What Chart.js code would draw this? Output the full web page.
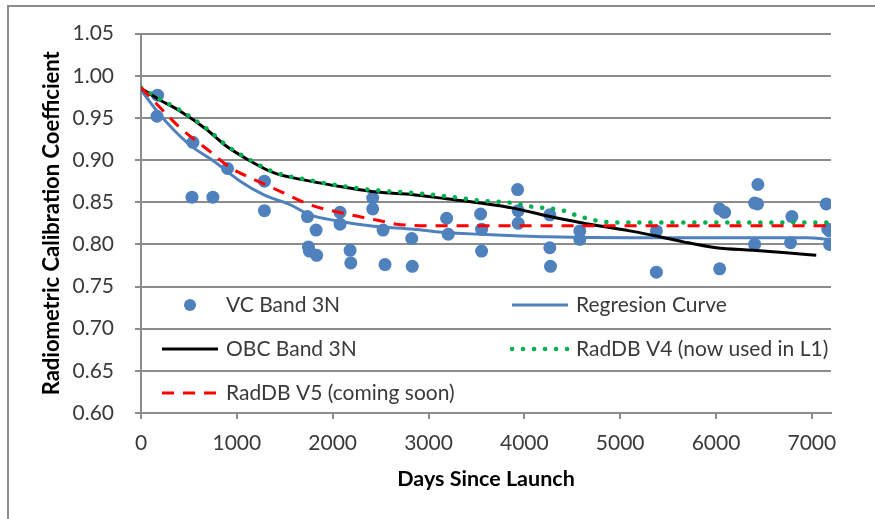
<!DOCTYPE html>
<html lang="en">
<head>
  <meta charset="UTF-8" />
  <title>Radiometric Calibration Coefficient - Band 3N</title>
  <script src="https://cdn.jsdelivr.net/npm/chart.js"></script>
  <style>
    body {
      margin: 0;
      background: #ffffff;
    }

    .wrap {
      position: relative;
      width: 875px;
      height: 519px;
    }

    .frame {
      position: absolute;
      left: 7px;
      top: 5px;
      width: 875px;
      height: 519px;
      border-left: 2px solid #8c8c8c;
      border-top: 2px solid #8c8c8c;
      pointer-events: none;
    }
  </style>
</head>
<body>
  <div class="wrap">
    <canvas id="calChart" width="875" height="519"></canvas>
    <div class="frame"></div>
  </div>

  <script>
    // VC Band 3N (vicarious calibration points)
    const vcDays = [173, 167, 542, 532, 750, 903, 1288, 1288, 1737, 1747, 1757, 1833, 1827,
      2077, 2077, 2182, 2189, 2418, 2418, 2526, 2546, 2825, 2831, 3189, 3206,
      3544, 3554, 3554, 3930, 3936, 3936, 4266, 4266, 4273, 4579, 4579,
      5378, 5378, 6038, 6090, 6038, 6437, 6403, 6434, 6403, 6792, 6778,
      7150, 7167, 7185, 7185];
    const vcValues = [0.977, 0.952, 0.921, 0.856, 0.856, 0.890, 0.875, 0.840, 0.833, 0.797, 0.792, 0.787, 0.817,
      0.838, 0.824, 0.793, 0.778, 0.855, 0.842, 0.817, 0.776, 0.807, 0.774, 0.831, 0.812,
      0.836, 0.818, 0.792, 0.865, 0.840, 0.825, 0.835, 0.796, 0.774, 0.816, 0.806,
      0.816, 0.767, 0.842, 0.838, 0.771, 0.871, 0.849, 0.848, 0.800, 0.833, 0.802,
      0.848, 0.818, 0.816, 0.800];

    // Regresion Curve
    const regDays = [0, 167, 340, 532, 757, 1035, 1278, 1556, 1765, 2043, 2320, 2494, 2841, 3189, 3537, 3954, 4232, 5100, 6942, 7185];
    const regValues = [0.983, 0.958, 0.936, 0.916, 0.899, 0.875, 0.859, 0.847, 0.835, 0.828, 0.823, 0.821, 0.818, 0.814, 0.812, 0.810, 0.809, 0.808, 0.808, 0.806];

    // OBC Band 3N
    const obcDays = [0, 201, 410, 688, 896, 1139, 1382, 1765, 2112, 2460, 2841, 3189, 3537, 3884, 4232, 4580, 5100, 5378, 5660, 6004, 6385, 6733, 7046];
    const obcValues = [0.985, 0.971, 0.958, 0.936, 0.916, 0.899, 0.885, 0.875, 0.868, 0.862, 0.859, 0.854, 0.849, 0.843, 0.834, 0.826, 0.816, 0.810, 0.803, 0.796, 0.793, 0.790, 0.787];

    // RadDB V4 (now used in L1)
    const v4Days = [0, 201, 410, 688, 896, 1139, 1382, 1765, 2112, 2460, 2841, 3189, 3537, 3884, 4060, 4410, 4580, 4930, 7180];
    const v4Values = [0.986, 0.972, 0.959, 0.937, 0.917, 0.900, 0.886, 0.876, 0.869, 0.864, 0.861, 0.857, 0.852, 0.849, 0.845, 0.840, 0.833, 0.826, 0.826];

    // RadDB V5 (coming soon)
    const v5Days = [0, 236, 410, 722, 931, 1139, 1452, 1765, 2147, 2494, 2668, 3015, 7180];
    const v5Values = [0.986, 0.958, 0.938, 0.910, 0.891, 0.879, 0.863, 0.847, 0.836, 0.828, 0.824, 0.822, 0.822];

    // axis ticks
    const xTicks = [0, 1000, 2000, 3000, 4000, 5000, 6000, 7000];
    const yTicks = [0.60, 0.65, 0.70, 0.75, 0.80, 0.85, 0.90, 0.95, 1.00, 1.05];
    const xMin = 0, xMax = 7200;
    const yMin = 0.60, yMax = 1.05;

    const BLUE = '#4f81bd';
    const GRID = '#8c8c8c';
    const TEXT = '#3a3a3a';
    const FONT = 'Lato, "Open Sans", sans-serif';

    function toPoints(xs, ys) {
      return xs.map((x, i) => ({ x: x, y: ys[i] }));
    }

    // legend drawn inside the plot, two columns like the original
    const legendItems = [
      { text: 'VC Band 3N', kind: 'dot', color: BLUE, col: 0, row: 0 },
      { text: 'Regresion Curve', kind: 'line', color: BLUE, col: 1, row: 0 },
      { text: 'OBC Band 3N', kind: 'line', color: '#000000', col: 0, row: 1 },
      { text: 'RadDB V4 (now used in L1)', kind: 'dots', color: '#00b050', col: 1, row: 1 },
      { text: 'RadDB V5 (coming soon)', kind: 'dash', color: '#ff0000', col: 0, row: 2 }
    ];

    const insideLegend = {
      id: 'insideLegend',
      afterDraw(chart) {
        const ctx = chart.ctx;
        const colX = [160, 510];
        const rowY = [305, 349, 393];
        ctx.save();
        legendItems.forEach(item => {
          const x0 = colX[item.col];
          const y = rowY[item.row];
          ctx.strokeStyle = item.color;
          ctx.fillStyle = item.color;
          ctx.lineWidth = 3;
          ctx.setLineDash([]);
          ctx.lineCap = 'butt';
          if (item.kind === 'dot') {
            ctx.beginPath();
            ctx.arc(x0 + 30, y, 6, 0, Math.PI * 2);
            ctx.fill();
          } else {
            if (item.kind === 'dash') ctx.setLineDash([12, 9]);
            if (item.kind === 'dots') {
              ctx.lineWidth = 4.5;
              ctx.lineCap = 'round';
              ctx.setLineDash([0.1, 10.9]);
            }
            ctx.beginPath();
            ctx.moveTo(x0 + 2, y);
            ctx.lineTo(x0 + 58, y);
            ctx.stroke();
          }
          ctx.setLineDash([]);
          ctx.fillStyle = TEXT;
          ctx.font = '21px ' + FONT;
          ctx.textBaseline = 'middle';
          ctx.textAlign = 'left';
          ctx.fillText(item.text, x0 + 66, y);
        });
        ctx.restore();
      }
    };

    const ctx = document.getElementById('calChart').getContext('2d');
    new Chart(ctx, {
      type: 'scatter',
      data: {
        datasets: [
          {
            label: 'RadDB V5 (coming soon)',
            data: toPoints(v5Days, v5Values),
            showLine: true,
            borderColor: '#ff0000',
            borderWidth: 3,
            borderDash: [12, 9],
            pointRadius: 0,
            cubicInterpolationMode: 'monotone',
            order: 1
          },
          {
            label: 'RadDB V4 (now used in L1)',
            data: toPoints(v4Days, v4Values),
            showLine: true,
            borderColor: '#00b050',
            borderWidth: 4.5,
            borderDash: [0.1, 10.9],
            borderCapStyle: 'round',
            pointRadius: 0,
            cubicInterpolationMode: 'monotone',
            order: 2
          },
          {
            label: 'OBC Band 3N',
            data: toPoints(obcDays, obcValues),
            showLine: true,
            borderColor: '#000000',
            borderWidth: 3,
            pointRadius: 0,
            cubicInterpolationMode: 'monotone',
            order: 3
          },
          {
            label: 'Regresion Curve',
            data: toPoints(regDays, regValues),
            showLine: true,
            borderColor: BLUE,
            borderWidth: 3,
            pointRadius: 0,
            cubicInterpolationMode: 'monotone',
            order: 4
          },
          {
            label: 'VC Band 3N',
            data: toPoints(vcDays, vcValues),
            backgroundColor: BLUE,
            borderColor: BLUE,
            pointRadius: 6.5,
            pointBorderWidth: 0,
            order: 5
          }
        ]
      },
      options: {
        responsive: false,
        animation: false,
        layout: {
          padding: { top: 32, right: 44, bottom: 0, left: 0 }
        },
        plugins: {
          legend: { display: false },
          tooltip: { enabled: false }
        },
        scales: {
          x: {
            type: 'linear',
            min: xMin,
            max: xMax,
            afterBuildTicks: scale => { scale.ticks = xTicks.map(v => ({ value: v })); },
            afterFit: scale => { scale.height = 106; },
            grid: {
              drawOnChartArea: false,
              drawTicks: true,
              tickLength: 6,
              color: GRID,
              lineWidth: 2
            },
            border: { color: GRID, width: 2 },
            ticks: {
              autoSkip: false,
              padding: 12,
              color: TEXT,
              font: { family: FONT, size: 21 },
              maxRotation: 0,
              callback: v => String(v)
            },
            title: {
              display: true,
              text: 'Days Since Launch',
              color: '#000000',
              font: { family: FONT, size: 21.5, weight: 'bold' },
              padding: { top: 0, bottom: 27 }
            }
          },
          y: {
            min: yMin,
            max: yMax,
            afterBuildTicks: scale => { scale.ticks = yTicks.map(v => ({ value: v })); },
            afterFit: scale => { scale.width = 141; },
            grid: {
              drawTicks: true,
              tickLength: 6,
              color: GRID,
              lineWidth: 2
            },
            border: { color: GRID, width: 2 },
            ticks: {
              autoSkip: false,
              padding: 21,
              color: TEXT,
              font: { family: FONT, size: 21 },
              callback: v => v.toFixed(2)
            },
            title: {
              display: true,
              text: 'Radiometric Calibration Coefficient',
              color: '#000000',
              font: { family: FONT, size: 22, weight: 'bold' },
              padding: { top: 39, bottom: 0 }
            }
          }
        }
      },
      plugins: [insideLegend]
    });
  </script>
</body>
</html>
